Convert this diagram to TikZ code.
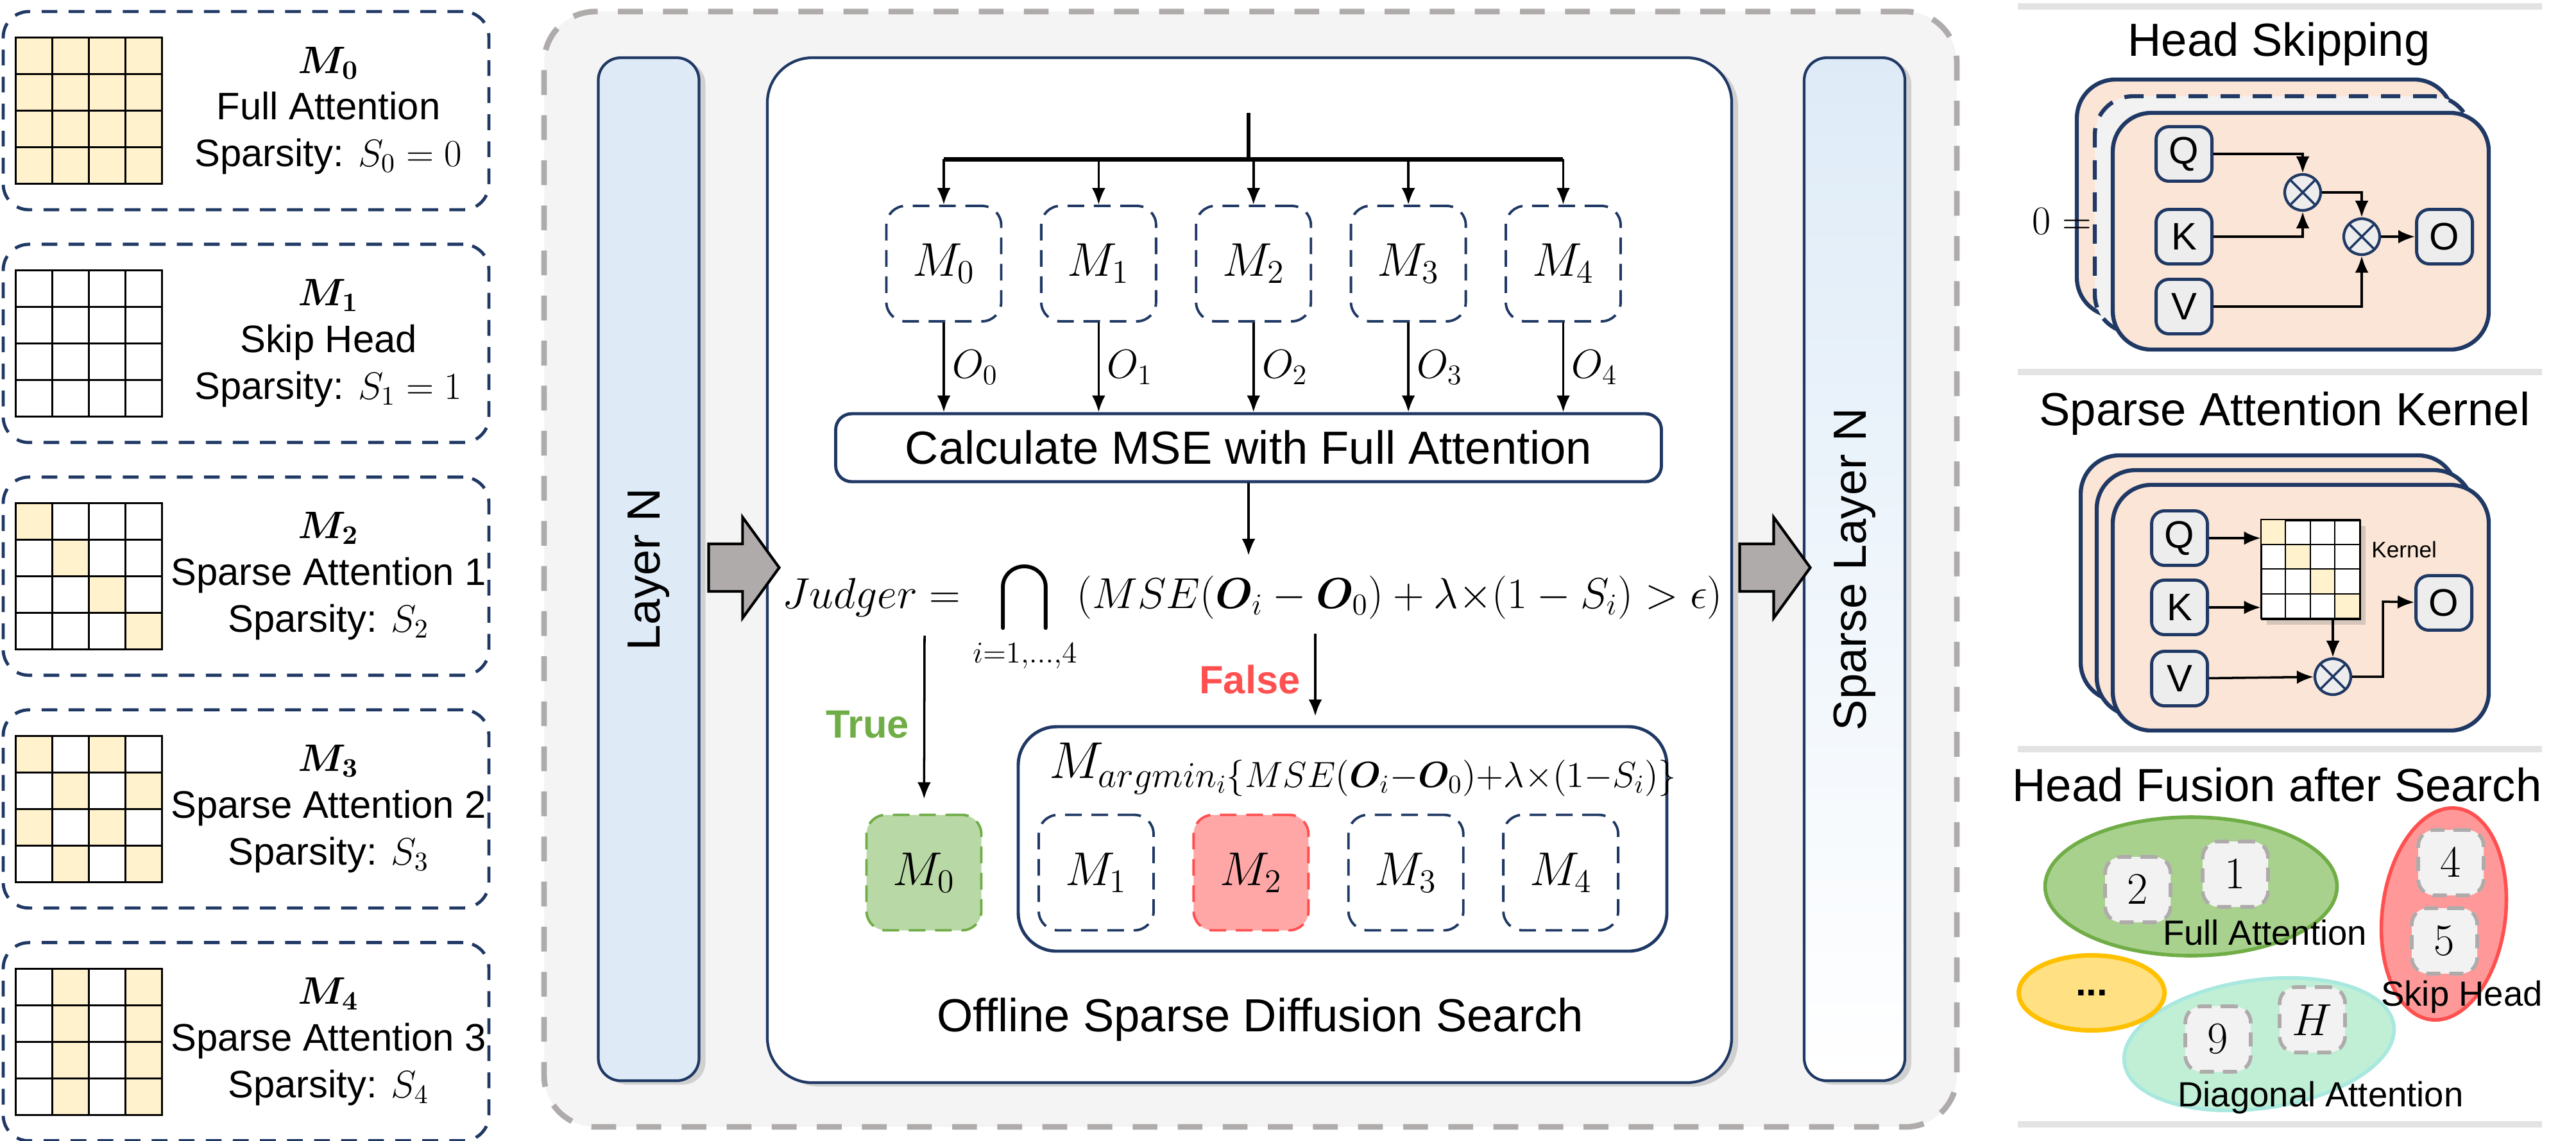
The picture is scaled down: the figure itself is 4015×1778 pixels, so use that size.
\RequirePackage{fix-cm}
\documentclass[tikz,border=0pt]{standalone}
\usepackage[no-math]{fontspec}
\usepackage{amsmath,bm}
\setmainfont{Liberation Sans}
\usetikzlibrary{positioning,arrows.meta,shadows,shapes.geometric,shapes.arrows}

\definecolor{navy}{RGB}{31,56,100}
\definecolor{cellyellow}{RGB}{255,242,204}
\definecolor{panelgray}{RGB}{244,244,244}
\definecolor{dashgray}{RGB}{175,171,171}
\definecolor{arrowgray}{RGB}{175,171,171}
\definecolor{layerblue}{RGB}{222,235,247}
\definecolor{peach}{RGB}{251,229,214}
\definecolor{keygray}{RGB}{237,237,237}
\definecolor{headfill}{RGB}{242,242,242}
\definecolor{truegreen}{RGB}{112,173,71}
\definecolor{falsered}{RGB}{255,80,80}
\definecolor{greenfill}{RGB}{184,216,165}
\definecolor{redfill}{RGB}{255,166,166}
\definecolor{rulegray}{RGB}{227,227,227}
\definecolor{fusegreen}{RGB}{169,209,142}
\definecolor{fusered}{RGB}{255,153,153}
\definecolor{fuseyellow}{RGB}{255,224,130}
\definecolor{fuseyellowline}{RGB}{255,192,0}
\definecolor{fuseteal}{RGB}{192,239,214}
\definecolor{fusetealline}{RGB}{168,232,222}

\begin{document}
\begin{tikzpicture}[x=0.1mm, y=-0.1mm, node distance=5.85mm,
  >={Latex[length=2.6mm, width=2.1mm]},
  every node/.style={font=\fontsize{17}{20.7}\selectfont},
  kindbox/.style={draw=navy, line width=1.4pt, dash pattern=on 7pt off 5pt, rounded corners=4mm, minimum width=75.7mm, minimum height=30.9mm},
  kindtext/.style={align=center},
  cellline/.style={draw=black, line width=0.8pt},
  framebox/.style={draw=dashgray, fill=panelgray, line width=2.5pt, dash pattern=on 11pt off 9pt, rounded corners=8mm, minimum width=220.2mm, minimum height=173.9mm},
  layerbox/.style={draw=navy, line width=1.2pt, rounded corners=3.5mm, minimum width=15.7mm, minimum height=159.5mm, inner sep=0pt, font=\fontsize{20.6}{24}\selectfont, drop shadow={shadow xshift=1mm, shadow yshift=-0.6mm, opacity=0.3}},
  searchbox/.style={draw=navy, fill=white, line width=1.2pt, rounded corners=7mm, minimum width=150.3mm, minimum height=159.8mm, drop shadow={shadow xshift=1mm, shadow yshift=-0.6mm, opacity=0.3}},
  blockarrow/.style={single arrow, draw=black, fill=arrowgray, line width=1.2pt, inner xsep=0pt, inner ysep=3.5mm, single arrow head extend=4.15mm, single arrow tip angle=108, minimum height=11mm},
  mbox/.style={draw=navy, line width=1.1pt, dash pattern=on 2.6mm off 1.5mm, rounded corners=3mm, minimum width=17.9mm, minimum height=18mm, inner sep=0pt, font=\fontsize{21}{24}\selectfont},
  procbox/.style={draw=navy, line width=1.4pt, rounded corners=2.5mm, minimum width=128.7mm, minimum height=10.6mm, font=\fontsize{20.6}{24}\selectfont},
  groupbox/.style={draw=navy, line width=1.4pt, rounded corners=6mm, minimum width=101.1mm, minimum height=35mm},
  wire/.style={line width=1pt},
  verdict/.style={font=\fontsize{17.5}{20}\selectfont\bfseries},
  titletext/.style={font=\fontsize{20.6}{24}\selectfont},
  sepline/.style={draw=rulegray, line width=1mm},
  card/.style={draw=navy, fill=peach, line width=1.8pt, rounded corners=6mm, minimum width=58.6mm, minimum height=36.9mm},
  keybox/.style={draw=navy, fill=keygray, line width=1.4pt, rounded corners=2mm, minimum width=8.7mm, minimum height=8.5mm, inner sep=0pt},
  mult/.style={circle, draw=navy, fill=keygray, line width=1.2pt, minimum size=5.6mm, inner sep=0pt, path picture={\draw[navy, line width=1pt] (path picture bounding box.north west) -- (path picture bounding box.south east) (path picture bounding box.north east) -- (path picture bounding box.south west);}},
  blob/.style={ellipse, line width=1.6pt},
  headbox/.style={draw=dashgray, fill=headfill, line width=1.6pt, dash pattern=on 2.2mm off 1.4mm, rounded corners=2.5mm, minimum size=10.2mm, inner sep=0pt, font=\fontsize{20}{22}\selectfont},
  fusetext/.style={font=\fontsize{15.5}{18}\selectfont}
]
\useasboundingbox (0,0) rectangle (4015,1778);

\def\cellw{57}

  % Mask kinds
  \node (kfull) [kindbox] at (383.5,172.5) {};
  \node (kskip) [kindbox, below=4.9mm of kfull] {};
  \node (kdiag) [kindbox, below=4.9mm of kskip] {};
  \node (kcheck) [kindbox, below=4.9mm of kdiag] {};
  \node (kstripe) [kindbox, below=4.9mm of kcheck] {};

  \node (fullinfo) [kindtext] at ([xshift=12.85mm]kfull.center) {$\bm{M_0}$\\Full Attention\\Sparsity: $S_0=0$};
  \node (skipinfo) [kindtext] at ([xshift=12.85mm]kskip.center) {$\bm{M_1}$\\Skip Head\\Sparsity: $S_1=1$};
  \node (diaginfo) [kindtext] at ([xshift=12.85mm]kdiag.center) {$\bm{M_2}$\\Sparse Attention 1\\Sparsity: $S_2$};
  \node (checkinfo) [kindtext] at ([xshift=12.85mm]kcheck.center) {$\bm{M_3}$\\Sparse Attention 2\\Sparsity: $S_3$};
  \node (stripeinfo) [kindtext] at ([xshift=12.85mm]kstripe.center) {$\bm{M_4}$\\Sparse Attention 3\\Sparsity: $S_4$};

  % Mask grids
  \begin{scope}[shift={(kfull.west)}]
    \fill[cellyellow] (22,-114) rectangle (250,114);
    \foreach \r in {0,...,3} \foreach \c in {0,...,3}
      \draw[cellline] (22+\cellw*\c,-114+\cellw*\r) rectangle +(\cellw,\cellw);
  \end{scope}
  \begin{scope}[shift={(kskip.west)}]
    \foreach \r in {0,...,3} \foreach \c in {0,...,3}
      \draw[cellline] (22+\cellw*\c,-114+\cellw*\r) rectangle +(\cellw,\cellw);
  \end{scope}
  \begin{scope}[shift={(kdiag.west)}]
    \foreach \c in {0,...,3}
      \fill[cellyellow] (22+\cellw*\c,-114+\cellw*\c) rectangle +(\cellw,\cellw);
    \foreach \r in {0,...,3} \foreach \c in {0,...,3}
      \draw[cellline] (22+\cellw*\c,-114+\cellw*\r) rectangle +(\cellw,\cellw);
  \end{scope}
  \begin{scope}[shift={(kcheck.west)}]
    \foreach \c/\r in {0/0,2/0,1/1,3/1,0/2,2/2,1/3,3/3}
      \fill[cellyellow] (22+\cellw*\c,-114+\cellw*\r) rectangle +(\cellw,\cellw);
    \foreach \r in {0,...,3} \foreach \c in {0,...,3}
      \draw[cellline] (22+\cellw*\c,-114+\cellw*\r) rectangle +(\cellw,\cellw);
  \end{scope}
  \begin{scope}[shift={(kstripe.west)}]
    \foreach \r in {0,...,3} \foreach \c in {1,3}
      \fill[cellyellow] (22+\cellw*\c,-114+\cellw*\r) rectangle +(\cellw,\cellw);
    \foreach \r in {0,...,3} \foreach \c in {0,...,3}
      \draw[cellline] (22+\cellw*\c,-114+\cellw*\r) rectangle +(\cellw,\cellw);
  \end{scope}

  % Search frame
  \node (frame) [framebox] at (1949,887.5) {};
  \node (layer) [layerbox, fill=layerblue] at (1011,887.5) {\rotatebox{90}{Layer N}};
  \node (search) [searchbox] at (1947.5,889) {};
  \node (sparse) [layerbox, top color=layerblue, bottom color=white] at (2890.5,887.5) {\rotatebox{90}{Sparse Layer N}};
  \node (feedin) [blockarrow] at (1146,885) {};
  \node (feedout) [blockarrow] at (2753,885) {};

  % Candidates
  \node (c0) [mbox] at (1471,411) {$M_0$};
  \node (c1) [mbox, right=of c0] {$M_1$};
  \node (c2) [mbox, right=of c1] {$M_2$};
  \node (c3) [mbox, right=of c2] {$M_3$};
  \node (c4) [mbox, right=of c3] {$M_4$};
  \node (mse) [procbox] at (1946,698) {Calculate MSE with Full Attention};

  \coordinate (feed) at (1946,176);
  \coordinate (split) at (1946,248);
  \draw[line width=1.6pt] (feed) -- (split);
  \draw[line width=2pt] (c0 |- split) -- (c4 |- split);
  \foreach \m in {c0,c1,c2,c3,c4}
    \draw[->, wire] (\m |- split) -- (\m);
  \foreach \i in {0,...,4}
    \draw[->, wire] (c\i) -- (c\i |- mse.north) node[midway, right, font=\fontsize{18}{21}\selectfont] {$O_\i$};

  % Judger
  \node (judge) [anchor=base, font=\fontsize{19.2}{22}\selectfont] at (1952,948) {$\displaystyle Judger = \bigcap_{i=1,\dots,4} (MSE(\bm{O}_i - \bm{O}_0) + \lambda{\times}(1 - S_i) > \epsilon)$};
  \coordinate (judgein) at (1946,866);
  \draw[->, wire] (mse) -- (judgein);

  \coordinate (truefrom) at (1441,991);
  \coordinate (falsefrom) at (2050,988);
  \node (pick) [mbox, fill=greenfill, draw=truegreen] at (1440,1360.5) {$M_0$};
  \node (others) [groupbox] at (2092.5,1308) {};
  \node (argmin) [font=\fontsize{23}{26}\selectfont] at (2125,1200) {$M_{argmin_i \{MSE(\bm{O}_i - \bm{O}_0) + \lambda\times(1 - S_i)\}}$};
  \node (d1) [mbox] at (1708.5,1360.5) {$M_1$};
  \node (d2) [mbox, fill=redfill, draw=falsered, right=of d1] {$M_2$};
  \node (d3) [mbox, right=of d2] {$M_3$};
  \node (d4) [mbox, right=of d3] {$M_4$};

  \draw[->, wire, shorten >=2.3mm] (truefrom) -- (pick) node[midway, left=1mm, verdict, text=truegreen] {True};
  \draw[->, wire, shorten >=1.4mm] (falsefrom) -- (falsefrom |- others.north) node[midway, left=1mm, verdict, text=falsered] {False};

  \node (searchname) [titletext] at (1964,1590) {Offline Sparse Diffusion Search};

  % Head skipping
  \draw[sepline] (3145,10) -- (3962,10);
  \node (skiptitle) [titletext] at (3552,69) {Head Skipping};
  \node (skipback) [card] at (3530,308.5) {};
  \node (skipmid) [card, fill=headfill, dash pattern=on 3mm off 2mm] at (3558,334.5) {};
  \node (skipfront) [card] at (3586,360.5) {};
  \node (zero) [anchor=east, font=\fontsize{18}{20}\selectfont] at (3272,345) {$0 =$};
  \node (sq) [keybox] at (3404,240) {Q};
  \node (sk) [keybox] at (3404,369) {K};
  \node (sv) [keybox] at (3404,478) {V};
  \node (so) [keybox] at (3810,369) {O};
  \node (sx1) [mult] at (3589,300) {};
  \node (sx2) [mult] at (3681,369) {};
  \draw[->, wire] (sq) -| (sx1);
  \draw[->, wire] (sk) -| (sx1);
  \draw[->, wire] (sx1) -| (sx2);
  \draw[->, wire] (sv) -| (sx2);
  \draw[->, wire] (sx2) -- (so);

  % Sparse attention kernel
  \draw[sepline] (3145,580) -- (3962,580);
  \node (kerneltitle) [titletext] at (3561,645) {Sparse Attention Kernel};
  \node (kback) [card, minimum height=38.3mm] at (3536,901.5) {};
  \node (kmid) [card, minimum height=38.3mm] at (3561,924.5) {};
  \node (kfront) [card, minimum height=38.3mm] at (3586,947.5) {};
  \node (kq) [keybox] at (3397,839) {Q};
  \node (kk) [keybox] at (3397,947) {K};
  \node (kv) [keybox] at (3397,1058) {V};
  \node (ko) [keybox] at (3809,940) {O};
  \node (kgrid) [draw=black, fill=white, line width=0.8pt, minimum size=15.4mm, inner sep=0pt, drop shadow={shadow xshift=0.8mm, shadow yshift=-0.8mm, opacity=0.3}] at (3602,888.5) {};
  \begin{scope}[shift={(kgrid.north west)}]
    \foreach \c in {0,...,3}
      \fill[cellyellow] (38.5*\c,38.5*\c) rectangle +(38.5,38.5);
    \foreach \r in {0,...,3} \foreach \c in {0,...,3}
      \draw[cellline, line width=0.6pt] (38.5*\c,38.5*\r) rectangle +(38.5,38.5);
  \end{scope}
  \node (kname) [anchor=west, font=\fontsize{10}{12}\selectfont] at (3684,857) {Kernel};
  \node (kmul) [mult] at (3636,1055) {};
  \coordinate (kbend) at (3714,938);
  \draw[->, wire] (kq) -- (kq -| kgrid.west);
  \draw[->, wire] (kk) -- (kk -| kgrid.west);
  \draw[->, wire] (kgrid.south -| kmul) -- (kmul);
  \draw[->, wire] (kv) -- (kmul);
  \draw[->, wire] (kmul) -| (kbend) -- (ko);

  % Head fusion
  \draw[sepline] (3145,1168) -- (3962,1168);
  \node (fusetitle) [titletext] at (3549,1224) {Head Fusion after Search};
  \node (diag) [blob, fill=fuseteal, draw=fusetealline, minimum width=42.4mm, minimum height=20mm, rotate=8] at (3521,1628) {};
  \node (full) [blob, fill=fusegreen, draw=truegreen, minimum width=45.5mm, minimum height=21.6mm] at (3415,1382) {};
  \node (skip) [blob, fill=fusered, draw=falsered, minimum width=19.2mm, minimum height=33.2mm, rotate=-7] at (3809,1425) {};
  \node (rest) [blob, fill=fuseyellow, draw=fuseyellowline, line width=2pt, minimum width=22.7mm, minimum height=11.7mm] at (3260,1548) {\bfseries ...};
  \node (h2) [headbox] at (3332,1387) {$2$};
  \node (h1) [headbox] at (3484,1363) {$1$};
  \node (h4) [headbox] at (3820,1345) {$4$};
  \node (h5) [headbox] at (3810,1467) {$5$};
  \node (h9) [headbox] at (3457,1620) {$9$};
  \node (hH) [headbox] at (3604,1590) {$H$};
  \node (fulltext) [fusetext] at (3530,1454) {Full Attention};
  \node (skiptext) [fusetext] at (3837,1554) {Skip Head};
  \node (diagtext) [fusetext] at (3617,1711) {Diagonal Attention};
  \draw[sepline] (3145,1753) -- (3962,1753);

\end{tikzpicture}
\end{document}
